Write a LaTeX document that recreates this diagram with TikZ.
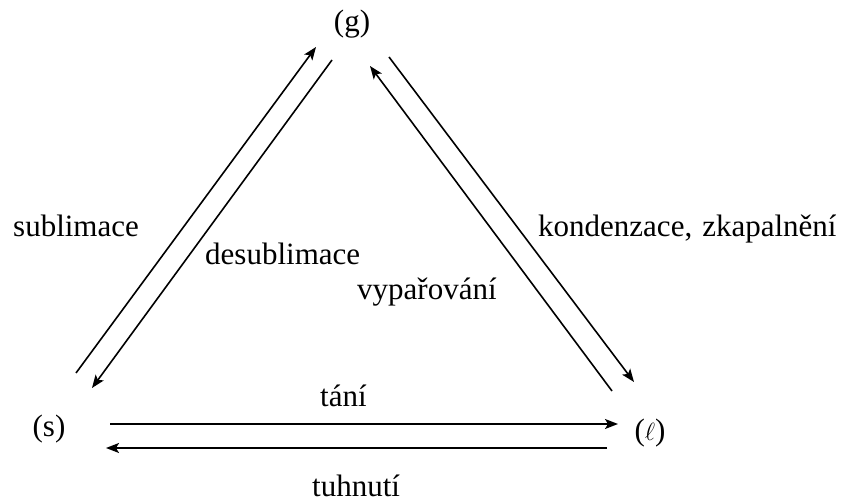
\documentclass[tikz,border=0pt]{standalone}
\usepackage{fontspec}
\setmainfont{Liberation Serif}
\usetikzlibrary{arrows.meta}
\begin{document}
\begin{tikzpicture}[x=1pt,y=-1pt,
  lbl/.style={inner sep=0pt,anchor=base west,font=\fontsize{31}{36}\selectfont},
  phase/.style={inner sep=0pt,anchor=base,font=\fontsize{31}{36}\selectfont},
  conn/.style={line width=1.6pt,-{Stealth[length=13pt,width=10pt,inset=3pt]}}]
\useasboundingbox (0,0) rectangle (847,502);
% phases
\node[phase] (g) at (352,32) {(g)};
\node[phase] (s) at (49,437) {(s)};
\node[phase] (l) at (650,441) {($\ell$)};
% labels
\node[lbl] (tani) at (320,407) {tání};
\node[lbl] (tuhnuti) at (312,497) {tuhnutí};
\node[lbl] (subl) at (13,237) {sublimace};
\node[lbl] (desubl) at (205,265) {desublimace};
\node[lbl] (vypar) at (357,300) {vypařování};
\node[lbl] (kond) at (538,237) {kondenzace,\hspace{10pt}zkapalnění};
% connector endpoints
\coordinate (s1) at (76,373);   \coordinate (g1) at (316,47);
\coordinate (g2) at (332,60);   \coordinate (s2) at (92,388);
\coordinate (l1) at (612,391);  \coordinate (g3) at (370,66);
\coordinate (g4) at (389,57);   \coordinate (l2) at (634,382);
\coordinate (s3) at (110,424);  \coordinate (l3) at (618,424);
\coordinate (l4) at (607,448);  \coordinate (s4) at (106,448);
\draw[conn] (s1) -- (g1);
\draw[conn] (g2) -- (s2);
\draw[conn] (l1) -- (g3);
\draw[conn] (g4) -- (l2);
\draw[conn] (s3) -- (l3);
\draw[conn] (l4) -- (s4);
\end{tikzpicture}
\end{document}
